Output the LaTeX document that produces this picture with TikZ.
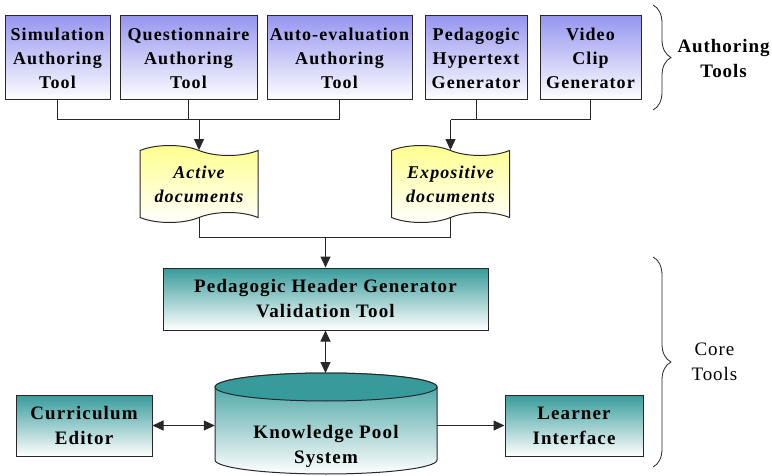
\documentclass[tikz,border=0pt]{standalone}
\usepackage{fontspec}
\setmainfont{Liberation Serif}
\newfontfamily\diagfont[LetterSpace=6]{Liberation Serif}
\newfontfamily\labelfont[LetterSpace=5]{Liberation Serif}
\usetikzlibrary{positioning, shapes.symbols, arrows.meta, decorations.pathreplacing}
\definecolor{authblue}{RGB}{150,150,240}
\definecolor{coreteal}{RGB}{55,155,155}
\definecolor{docyellow}{RGB}{255,255,140}
\definecolor{edge}{RGB}{40,40,40}

\begin{document}
\begin{tikzpicture}[x=1pt, y=1pt,
    authbox/.style={draw=edge, line width=1pt, top color=authblue, middle color=authblue!40!white,
        bottom color=white, minimum height=84, align=center, inner sep=0pt,
        font=\diagfont\bfseries\fontsize{18}{24}\selectfont},
    corebox/.style={draw=edge, line width=1pt, top color=coreteal, middle color=coreteal!45!white,
        bottom color=white, align=center, inner sep=0pt,
        font=\diagfont\bfseries\fontsize{19}{25}\selectfont},
    docbox/.style={tape, draw=edge, line width=1pt, top color=docyellow, bottom color=white,
        minimum width=118, minimum height=77, tape bend height=10pt,
        tape bend top=out and in, align=center, inner sep=0pt,
        font=\diagfont\bfseries\itshape\fontsize{18}{24}\selectfont},
    link/.style={edge, line width=1pt},
    tip/.style={-{Triangle[length=11pt, width=10pt]}},
    dbl/.style={{Triangle[length=11pt, width=10pt]}-{Triangle[length=11pt, width=10pt]}},
    brace/.style={edge, line width=0.8pt, decorate, decoration={brace, amplitude=18pt}}]
    \useasboundingbox (0,0) rectangle (772,475);

    % Authoring tools
    \node[authbox, minimum width=105] (sim) at (57.5,417) {Simulation\\Authoring\\Tool};
    \node[authbox, minimum width=137] (quest) at (188.5,417) {Questionnaire\\Authoring\\Tool};
    \node[authbox, minimum width=145] (auto) at (339.5,417) {Auto-evaluation\\Authoring\\Tool};
    \node[authbox, minimum width=102] (hyper) at (476,417) {Pedagogic\\Hypertext\\Generator};
    \node[authbox, minimum width=101] (video) at (590.5,417) {Video\\Clip\\Generator};

    % Documents
    \node[docbox] (active) at (199,291) {Active\\documents};
    \node[docbox] (expo) at (450.5,291) {Expositive\\documents};

    % Core tools
    \node[corebox, minimum width=325, minimum height=62] (header) at (325.5,176)
        {Pedagogic Header Generator\\Validation Tool};
    \node[corebox, minimum width=136, minimum height=61] (curric) at (84,49.5) {Curriculum\\Editor};
    \node[corebox, minimum width=138, minimum height=61] (learner) at (574,49.5) {Learner\\Interface};

    % Knowledge pool cylinder
    \path[draw=edge, line width=1pt, top color=coreteal, bottom color=white]
        (215,88) -- (215,15) arc[start angle=180, end angle=360, x radius=111, y radius=14]
        -- (437,88) arc[start angle=0, end angle=180, x radius=111, y radius=14] -- cycle;
    \draw[edge, line width=1pt, fill=coreteal] (326,88) ellipse[x radius=111, y radius=14];
    \node[minimum width=222, inner sep=0pt, align=center,
        font=\diagfont\bfseries\fontsize{19}{25}\selectfont] (pool) at (326,29) {Knowledge Pool\\System};
    \coordinate (pooltop) at (326,102);

    % Connectors
    \coordinate (barA) at (0,355);
    \coordinate (barB) at (0,238);
    \draw[link] (sim.south) |- (auto.south |- barA) -- (auto.south);
    \draw[link] (quest.south) -- (quest.south |- barA);
    \draw[link, tip] (active.north |- barA) -- (active.north);
    \draw[link] (expo.north |- barA) -| (video.south);
    \draw[link] (hyper.south) -- (hyper.south |- barA);
    \draw[link, tip] (expo.north |- barA) -- (expo.north);
    \draw[link] (active.south) |- (expo.south |- barB) -- (expo.south);
    \draw[link, tip] (header.north |- barB) -- (header.north);
    \draw[link, dbl] (header.south) -- (header.south |- pooltop);
    \draw[link, dbl] (curric.east) -- (curric.east -| pool.west);
    \draw[link, tip] (pool.east |- learner.west) -- (learner.west);

    % Groups
    \draw[brace] (653,470) -- (653,365);
    \node[align=center, anchor=west, font=\labelfont\bfseries\fontsize{19}{25}\selectfont] (authlabel)
        at (674,416) {Authoring\\Tools};
    \draw[brace] (653,218) -- (653,8);
    \node[align=center, anchor=west, font=\labelfont\fontsize{19}{25}\selectfont] (corelabel)
        at (688,113) {Core\\Tools};
\end{tikzpicture}
\end{document}
